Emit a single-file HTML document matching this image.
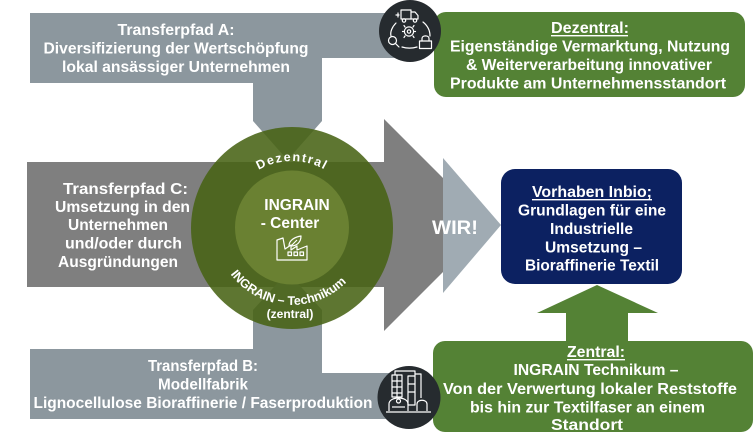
<!DOCTYPE html>
<html><head><meta charset="utf-8"><style>
html,body{margin:0;padding:0;background:#fff;}
svg{display:block;}
text{font-family:"Liberation Sans",Arial,sans-serif;font-weight:bold;fill:#fff;}
</style></head><body>
<svg width="756" height="438" viewBox="0 0 756 438" xmlns="http://www.w3.org/2000/svg">
<rect width="756" height="438" fill="#fff"/>
<defs>
<path id="arcTop" d="M 234.0 194.5 A 67 67 0 0 1 350.0 194.5"/>
<path id="arcBot" d="M 218.0 249.2 A 77 77 0 0 0 362.3 259.3"/>
</defs>
<!-- big dark gray arrow -->
<polygon points="27,162 384,162 384,119 490,225 384,331 384,287 27,287" fill="#7f7f7f"/>
<!-- top T shape -->
<polygon points="30,13 400,13 400,58 322,58 322,121 287.5,160 253,121 253,83 30,83" fill="#8c979e"/>
<!-- bottom T shape -->
<polygon points="30,349 253,349 253,310 287.5,272 322,310 322,373 400,373 400,419 30,419" fill="#8c979e"/>
<!-- light chevron -->
<polygon points="443,158 501,225 443,293" fill="#a0abb3"/>
<!-- circle -->
<circle cx="292" cy="228" r="101" fill="#486314" fill-opacity="0.88"/>
<circle cx="292" cy="227.5" r="57" fill="#6a8132"/>
<!-- factory icon -->
<g fill="none" stroke="#fff" stroke-width="1.2" stroke-linejoin="round">
<path d="M277,260 L277,240 L283,238 L285,249 L291,245 L291,250 L297,246 L297,250 L307,246 L307,260 Z"/>
<rect x="288" y="252" width="3.5" height="3.5"/><rect x="294" y="252" width="3.5" height="3.5"/><rect x="300" y="252" width="3.5" height="3.5"/>
<path d="M289,246 C289,240 295,237 301,236 C301,242 297,246 291,246 M291,246 L297,240"/>
</g>
<!-- circle texts -->
<text font-size="12.5" letter-spacing="1.5"><textPath href="#arcTop" startOffset="50%" text-anchor="middle">Dezentral</textPath></text>
<text font-size="12.5"><textPath href="#arcBot" startOffset="50%" text-anchor="middle">INGRAIN – Technikum</textPath></text>
<text x="290" y="318" font-size="12" text-anchor="middle">(zentral)</text>
<text x="297" y="210" font-size="15.5" text-anchor="middle">INGRAIN</text>
<text x="290" y="228" font-size="15.5" text-anchor="middle">- Center</text>
<!-- WIR -->
<text x="455" y="234" font-size="19" text-anchor="middle" textLength="46" lengthAdjust="spacingAndGlyphs">WIR!</text>
<g font-size="15.5" text-anchor="middle">
<!-- Transferpfad A -->
<text x="176" y="35" textLength="117" lengthAdjust="spacingAndGlyphs">Transferpfad A:</text>
<text x="176" y="53.5" textLength="265" lengthAdjust="spacingAndGlyphs">Diversifizierung der Wertschöpfung</text>
<text x="176" y="72" textLength="228" lengthAdjust="spacingAndGlyphs">lokal ansässiger Unternehmen</text>
<!-- Transferpfad C -->
<text x="125.5" y="194" textLength="125" lengthAdjust="spacingAndGlyphs">Transferpfad C:</text>
<text x="122.5" y="212" textLength="135" lengthAdjust="spacingAndGlyphs">Umsetzung in den</text>
<text x="118" y="230" textLength="100" lengthAdjust="spacingAndGlyphs">Unternehmen</text>
<text x="123.5" y="248.5" textLength="117" lengthAdjust="spacingAndGlyphs">und/oder durch</text>
<text x="118" y="267" textLength="120" lengthAdjust="spacingAndGlyphs">Ausgründungen</text>
<!-- Transferpfad B -->
<text x="203" y="371" textLength="110" lengthAdjust="spacingAndGlyphs">Transferpfad B:</text>
<text x="203" y="389.5" textLength="90" lengthAdjust="spacingAndGlyphs">Modellfabrik</text>
<text x="203" y="408" textLength="339" lengthAdjust="spacingAndGlyphs">Lignocellulose Bioraffinerie  / Faserproduktion</text>
</g>
<!-- green up arrow -->
<polygon points="566,345 566,313 537,313 597,285 658,313 628,313 628,345" fill="#548235"/>
<!-- top green box -->
<rect x="434" y="12" width="311" height="85" rx="12" fill="#548235"/>
<g font-size="15.5" text-anchor="middle">
<text x="590" y="33" textLength="78" lengthAdjust="spacingAndGlyphs">Dezentral:</text>
<text x="590" y="51.5" textLength="280" lengthAdjust="spacingAndGlyphs">Eigenständige Vermarktung, Nutzung</text>
<text x="589" y="70" textLength="246" lengthAdjust="spacingAndGlyphs">&amp; Weiterverarbeitung innovativer</text>
<text x="588" y="88.5" textLength="276" lengthAdjust="spacingAndGlyphs">Produkte am Unternehmensstandort</text>
</g>
<rect x="551" y="35" width="77" height="1.4" fill="#fff"/>
<!-- navy box -->
<rect x="501" y="169" width="181" height="115" rx="14" fill="#0c2161"/>
<g font-size="15.5" text-anchor="middle">
<text x="592" y="197" textLength="120" lengthAdjust="spacingAndGlyphs">Vorhaben Inbio;</text>
<text x="592" y="215.5" textLength="148" lengthAdjust="spacingAndGlyphs">Grundlagen für eine</text>
<text x="591.5" y="234" textLength="83" lengthAdjust="spacingAndGlyphs">Industrielle</text>
<text x="593.5" y="252.5" textLength="97" lengthAdjust="spacingAndGlyphs">Umsetzung –</text>
<text x="592" y="270.5" textLength="134" lengthAdjust="spacingAndGlyphs">Bioraffinerie Textil</text>
</g>
<rect x="532" y="199" width="120" height="1.4" fill="#fff"/>
<!-- bottom green box -->
<rect x="433" y="341" width="320" height="91" rx="12" fill="#548235"/>
<g font-size="15.5" text-anchor="middle">
<text x="596" y="357" textLength="58" lengthAdjust="spacingAndGlyphs">Zentral:</text>
<text x="596" y="375" textLength="165" lengthAdjust="spacingAndGlyphs">INGRAIN Technikum –</text>
<text x="590" y="394" textLength="294" lengthAdjust="spacingAndGlyphs">Von der Verwertung lokaler Reststoffe</text>
<text x="587.5" y="412.5" textLength="235" lengthAdjust="spacingAndGlyphs">bis hin zur Textilfaser an einem</text>
<text x="587" y="430" textLength="72" lengthAdjust="spacingAndGlyphs">Standort</text>
</g>
<rect x="567" y="359" width="58" height="1.4" fill="#fff"/>
<!-- top icon circle -->
<circle cx="410" cy="31" r="31" fill="#262b2f"/>
<g fill="none" stroke="#fff" stroke-width="1.2" stroke-linejoin="round" stroke-linecap="round">
<rect x="401" y="10" width="10" height="9"/>
<path d="M411,12 L415,12 L418,15.5 L418,19 L411,19"/>
<circle cx="404" cy="20.5" r="1.7"/><circle cx="415" cy="20.5" r="1.7"/>
<path d="M398,13 L398,17 M396,15 L399,15"/>
<circle cx="409" cy="31.5" r="4.6"/><circle cx="409" cy="31.5" r="1.7"/>
<path d="M405,27 L404,25.5 M413,27 L414,25.5 M405,36 L404,37.5 M413,36 L414,37.5 M404,31.5 L402.5,31.5 M414,31.5 L415.5,31.5"/>
<path d="M396,23 C392,27 390,32 391,36"/>
<path d="M423,22 C428,26 430,31 430,36"/>
<circle cx="392.5" cy="40.5" r="4"/><path d="M395.3,43.3 L399,47"/>
<path d="M402,47 C407,48.5 412,48.5 417,47"/>
<path d="M422,41 L422,38.5 C422,35 429,35 429,38.5 L429,41"/>
<rect x="419.5" y="41" width="12" height="7.5"/>
</g>
<!-- bottom icon circle -->
<circle cx="409" cy="397.5" r="31.5" fill="#262b2f"/>
<g fill="none" stroke="#fff" stroke-width="1.2" stroke-linejoin="round">
<rect x="392" y="375" width="10" height="22"/>
<path d="M392,381 L402,381 M392,387 L402,387 M392,393 L402,393 M397,375 L397,397"/>
<path d="M395,375 L395,371 L415,371 L415,376"/>
<rect x="408" y="376" width="7" height="29"/>
<path d="M408,384 L415,384 M408,392 L415,392"/>
<path d="M415,374 L421,374 L421,398"/>
<path d="M389,411 L389,404 C389,396 408,396 408,404 L408,411"/>
<circle cx="398.5" cy="401" r="2"/>
<path d="M392,407 L405,407"/>
<path d="M417,411 L417,404 C417,399 427,399 427,404 L427,411"/>
<path d="M386,412 L431,412"/>
</g>
</svg>
</body></html>
